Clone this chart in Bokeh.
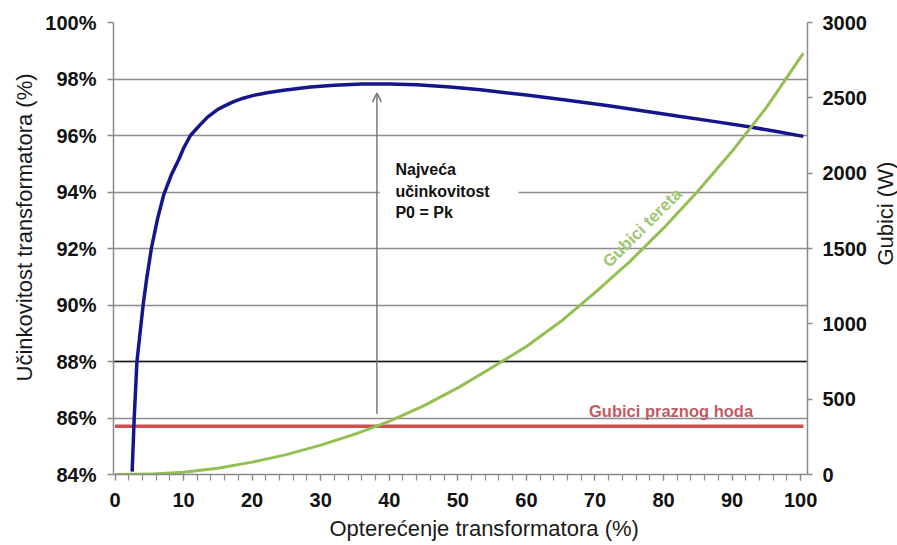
from bokeh.plotting import figure
from bokeh.layouts import row
from bokeh.models import (Range1d, LinearAxis, FixedTicker, PrintfTickFormatter,
                          Label, Arrow, OpenHead, Span, BoxAnnotation, Title)
from bokeh.embed import file_html
from bokeh.resources import INLINE

# ---- data ----
eff_load = [2.5, 2.8, 3.2, 4.1, 4.6, 5.3, 6.2, 7.1, 8.2, 9.3, 10.0, 11.0, 12.3, 13.5, 14.9, 16.0,
            17.3, 18.7, 20.2, 22.4, 24.6, 28.5, 32, 36, 40, 44, 48.9, 53.3, 60, 66, 72, 77.6,
            82, 87.3, 92.7, 96.5, 100.4]
eff_pct = [84.1, 86.0, 88.0, 90.0, 90.9, 92.0, 93.05, 93.9, 94.6, 95.15, 95.55, 96.0, 96.35, 96.65,
           96.91, 97.05, 97.2, 97.32, 97.42, 97.52, 97.6, 97.72, 97.78, 97.82, 97.82, 97.8,
           97.72, 97.62, 97.43, 97.25, 97.05, 96.85, 96.69, 96.5, 96.3, 96.14, 95.97]

load_x = [0, 5, 10, 15, 20, 25, 30, 35, 40, 45, 50, 55, 60, 65, 70, 75, 80, 85, 90, 95, 100, 100.4]
load_loss_w = [0, 2.5, 15, 42, 82, 132, 195, 268, 353, 455, 575, 710, 850, 1015, 1207, 1410, 1635,
               1880, 2145, 2435, 2770, 2795]

noload_x = [0, 100.4]
noload_loss_w = [320, 320]

left_ticks = [84, 86, 88, 90, 92, 94, 96, 98, 100]
right_ticks = [0, 500, 1000, 1500, 2000, 2500, 3000]
x_ticks = list(range(0, 101, 10))
x_minor = list(range(0, 101, 2))

FONT = "Liberation Sans"
GRID = "#8c8c8c"
AX = "#8a8a8a"
TITLE_COLOR = "#1a1a1a"

p = figure(width=873, height=545, output_backend="svg", toolbar_location=None,
           x_range=Range1d(-0.22, 101.0), y_range=Range1d(84, 100),
           min_border_left=113, min_border_right=66, min_border_top=22, min_border_bottom=70)
p.extra_y_ranges = {"loss": Range1d(0, 3000)}
p.outline_line_color = None
p.background_fill_color = "white"

# axes
xa = p.xaxis[0]
xa.ticker = FixedTicker(ticks=x_ticks, minor_ticks=x_minor)
ya = p.yaxis[0]
ya.ticker = FixedTicker(ticks=left_ticks)
ya.formatter = PrintfTickFormatter(format="%d%%")
ra = LinearAxis(y_range_name="loss", ticker=FixedTicker(ticks=right_ticks))
p.add_layout(ra, "right")

for ax in (xa, ya, ra):
    ax.axis_line_color = AX
    ax.axis_line_width = 1.5
    ax.major_tick_line_color = AX
    ax.major_tick_line_width = 1.3
    ax.major_tick_in = 0
    ax.major_tick_out = 6
    ax.major_label_text_font = FONT
    ax.major_label_text_font_style = "bold"
    ax.major_label_text_font_size = "20px"
    ax.major_label_text_color = "#111111"
xa.minor_tick_line_color = AX
xa.minor_tick_line_width = 1.2
xa.minor_tick_in = 0
xa.minor_tick_out = 6
ya.minor_tick_line_color = None
ra.minor_tick_line_color = None
ra.major_tick_out = 5
xa.major_label_standoff = 12
ya.major_label_standoff = 11
ra.major_label_standoff = 10

# left and bottom titles as side-panel titles
p.add_layout(Title(text="Učinkovitost transformatora (%)", align="left", offset=93,
                   standoff=12, text_font=FONT, text_font_style="normal",
                   text_font_size="22px", text_color=TITLE_COLOR), "left")
p.add_layout(Title(text="Opterećenje transformatora (%)", align="left", offset=216,
                   standoff=9, text_font=FONT, text_font_style="normal",
                   text_font_size="22px", text_color=TITLE_COLOR), "below")

p.xgrid.visible = False
p.ygrid.grid_line_color = GRID
p.ygrid.grid_line_width = 1.5
p.ygrid.ticker = FixedTicker(ticks=left_ticks)

p.add_layout(Span(location=88, dimension="width", line_color="#1a1a1a", line_width=1.3, level="underlay"))

# curves
p.line(noload_x, noload_loss_w, y_range_name="loss", line_color="#c9504d", line_width=3.5)
p.line(eff_load, eff_pct, line_color="#15158c", line_width=3.5)
p.line(load_x, load_loss_w, y_range_name="loss", line_color="#93c052", line_width=3)

# annotation: white box behind text, arrow, text
p.add_layout(BoxAnnotation(left=38.6, right=58.86, bottom=93.4, top=94.6,
                           fill_color="white", fill_alpha=1, line_color=None))
p.add_layout(Arrow(end=OpenHead(size=9, line_color="#707070", line_width=1.4),
                   x_start=38.2, y_start=86.14, x_end=38.2, y_end=97.5,
                   line_color="#707070", line_width=1.4))
p.add_layout(Label(x=40.9, y=94.03, text="Najveća\nučinkovitost\nP0 = Pk",
                   text_align="left", text_baseline="middle", text_font=FONT,
                   text_font_style="bold", text_font_size="16px", text_color="#111111",
                   text_line_height=1.25))
p.add_layout(Label(x=81.1, y=86.26, text="Gubici praznog hoda", text_align="center",
                   text_baseline="alphabetic", text_font=FONT, text_font_style="bold",
                   text_font_size="16.5px", text_color="#c25b63"))
p.add_layout(Label(x=76.9, y=92.73, text="Gubici tereta", text_align="center",
                   text_baseline="middle", angle=45, angle_units="deg", text_font=FONT,
                   text_font_style="bold", text_font_size="17px", text_color="#a2c672"))

# narrow strip on the right carrying the right-axis title (reads bottom-to-top)
strip = figure(width=24, height=545, output_backend="svg", toolbar_location=None,
               x_range=Range1d(0, 24), y_range=Range1d(0, 545),
               min_border_left=0, min_border_right=0, min_border_top=0, min_border_bottom=0)
strip.axis.visible = False
strip.grid.visible = False
strip.outline_line_color = None
strip.add_layout(Label(x=12, y=314.5, text="Gubici (W)", angle=90, angle_units="deg",
                       text_align="center", text_baseline="middle", text_font=FONT,
                       text_font_size="22px", text_color=TITLE_COLOR))

layout = row(p, strip, spacing=0)
open("out.html", "w").write(file_html(layout, INLINE))
